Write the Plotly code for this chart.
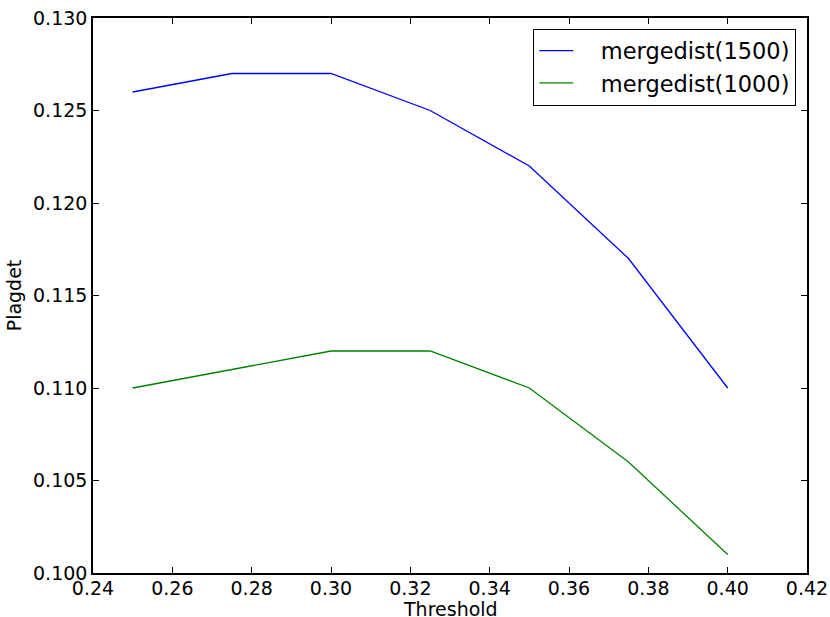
import plotly.graph_objects as go

threshold = [0.25, 0.275, 0.30, 0.325, 0.35, 0.375, 0.40]
merge1500 = [0.126, 0.127, 0.127, 0.125, 0.122, 0.117, 0.110]
merge1000 = [0.110, 0.111, 0.112, 0.112, 0.110, 0.106, 0.101]
series_names = ["mergedist(1500)", "mergedist(1000)"]
x_ticks = [0.24, 0.26, 0.28, 0.30, 0.32, 0.34, 0.36, 0.38, 0.40, 0.42]
y_ticks = [0.100, 0.105, 0.110, 0.115, 0.120, 0.125, 0.130]

fig = go.Figure()
fig.add_trace(go.Scatter(x=threshold, y=merge1500, mode="lines", name="\u2002\u2002" + series_names[0],
                         line=dict(color="#0000ff", width=1.3)))
fig.add_trace(go.Scatter(x=threshold, y=merge1000, mode="lines", name="\u2002\u2002" + series_names[1],
                         line=dict(color="#008000", width=1.3)))

axis_common = dict(showgrid=False, zeroline=False, showline=True, linecolor="black",
                   linewidth=1.5, mirror="ticks", ticks="inside", ticklen=6,
                   tickcolor="black", tickfont=dict(size=19, color="black"), automargin=False)
fig.update_layout(
    width=830, height=617,
    margin=dict(l=93, r=23, t=18, b=44),
    paper_bgcolor="white", plot_bgcolor="white",
    font=dict(family="DejaVu Sans", color="black"),
    xaxis=dict(range=[0.24, 0.42], tickvals=x_ticks, ticktext=["%.2f" % v for v in x_ticks],
               ticklabelstandoff=-3, **axis_common),
    yaxis=dict(range=[0.100, 0.130], tickvals=y_ticks, ticktext=["%.3f" % v for v in y_ticks],
               title=dict(text="Plagdet", font=dict(size=19), standoff=6), **axis_common),
    legend=dict(x=0.985, y=0.981, xanchor="right", yanchor="top", bordercolor="black",
                borderwidth=1, bgcolor="white", font=dict(size=22.5), itemwidth=34),
    annotations=[dict(text="Threshold", xref="paper", yref="paper", x=0.5, y=-0.065,
                      xanchor="center", yanchor="middle", showarrow=False, font=dict(size=19))],
)
fig.write_html("out.html", config={"displayModeBar": False},
               post_script="document.body.style.margin='0';document.body.style.padding='0';")
